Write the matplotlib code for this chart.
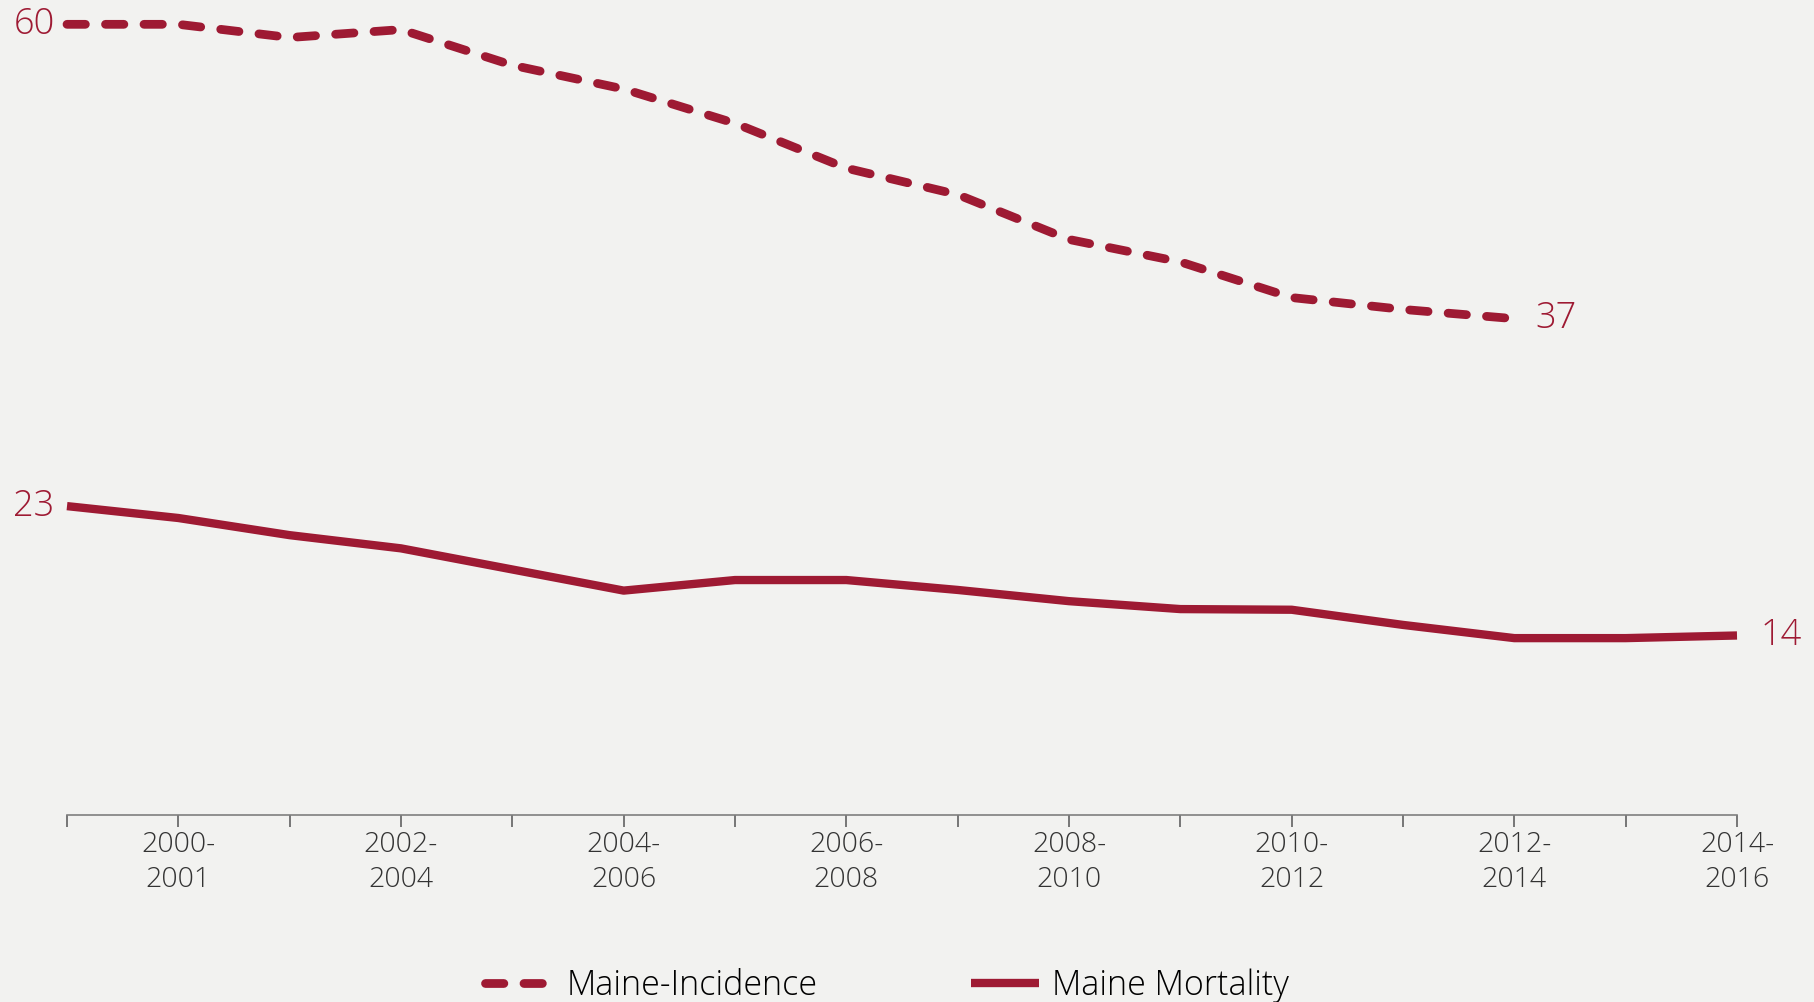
import matplotlib
matplotlib.use("Agg")
import matplotlib.pyplot as plt

# Maine incidence / mortality rates, two-year periods
periods = ["", "2000-\n2001", "", "2002-\n2004", "", "2004-\n2006", "", "2006-\n2008",
           "", "2008-\n2010", "", "2010-\n2012", "", "2012-\n2014", "", "2014-\n2016"]
incidence = [59.9, 59.9, 58.9, 59.5, 56.8, 55.0, 52.4, 49.0, 47.0, 43.6, 41.9,
             39.2, 38.3, 37.6]
mortality = [23.4, 22.5, 21.2, 20.2, 18.6, 17.0, 17.8, 17.8, 17.05, 16.2, 15.6,
             15.55, 14.4, 13.4, 13.4, 13.6]
incidence_labels = {0: "60", 13: "37"}
mortality_labels = {0: "23", 15: "14"}

red = "#9e1a33"
bg = "#f2f2f0"

plt.rcParams['font.family'] = ['Open Sans', 'DejaVu Sans']

fig = plt.figure(figsize=(18.14, 10.02), dpi=100, facecolor=bg)
ax = fig.add_axes([67/1814, 187/1002, (1737-67)/1814, 815/1002])
ax.set_facecolor(bg)

x_inc = list(range(len(incidence)))
x_mor = list(range(len(mortality)))

l1, = ax.plot(x_inc, incidence, color=red, lw=6.3, dashes=(2.1, 2.3),
              dash_capstyle='round', clip_on=False, label="Maine-Incidence")
l2, = ax.plot(x_mor, mortality, color=red, lw=6.0, solid_capstyle='butt',
              clip_on=False, label="Maine Mortality")

for i, t in incidence_labels.items():
    if i == 0:
        ax.annotate(t, (i, incidence[i]), xytext=(-9, 0), textcoords='offset points',
                    ha='right', va='center', color=red, fontsize=26, fontweight='light')
    else:
        ax.annotate(t, (i, incidence[i]), xytext=(15, 0), textcoords='offset points',
                    ha='left', va='center', color=red, fontsize=26, fontweight='light')
for i, t in mortality_labels.items():
    if i == 0:
        ax.annotate(t, (i, mortality[i]), xytext=(-9, 0), textcoords='offset points',
                    ha='right', va='center', color=red, fontsize=26, fontweight='light')
    else:
        ax.annotate(t, (i, mortality[i]), xytext=(17, 0), textcoords='offset points',
                    ha='left', va='center', color=red, fontsize=26, fontweight='light')

ax.set_xlim(0, len(periods) - 1)
ax.set_ylim(0, 815 / 13.2)
ax.set_xticks(range(len(periods)))
ax.set_xticklabels(periods, fontsize=20.5, color="#333333", fontweight='light',
                   linespacing=1.35)
ax.set_yticks([])
for s in ['top', 'right', 'left']:
    ax.spines[s].set_visible(False)
ax.spines['bottom'].set_color("#7f7f7f")
ax.spines['bottom'].set_linewidth(1.2)
ax.tick_params(axis='x', length=8.5, width=1.1, color="#555555", pad=3)

fig.legend(handles=[l1, l2], loc='center', bbox_to_anchor=(0.489, 0.016), ncol=2,
           frameon=False, handlelength=2.0, handletextpad=0.4,
           columnspacing=4.5, prop={'weight': 'light', 'size': 24.5})

fig.savefig("out.png", dpi=100, facecolor=bg)
